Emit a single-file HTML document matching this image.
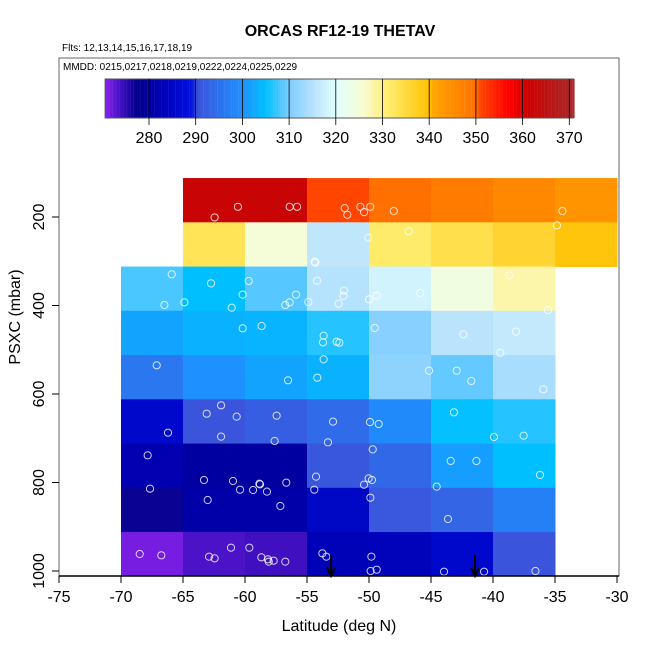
<!DOCTYPE html>
<html><head><meta charset="utf-8"><style>
body{margin:0;background:#fff;}
svg text{font-family:"Liberation Sans",sans-serif;}
</style></head><body>
<svg id="c" width="650" height="650" xmlns="http://www.w3.org/2000/svg"></svg>
<script>
const colLats=[-70,-65,-60,-55,-50,-45,-40,-35];
const rowEdges=[112,212,312,412,512,612,712,812,912,1012];
const rowStartLat=[-65,-65,-70,-70,-70,-70,-70,-70,-70];
const cellValues=[
[362,362,351,350,348,346,344],
[333,325,316,331.5,334,336,339],
[308,305,308.5,315,318,324,328],
[302,303.5,303.7,306.5,311,315.5,316.5],
[296,300,302,303.5,311.5,309,314],
[286,290.5,292,294,299,305.2,306.5],
[282,280,280,290.8,293.5,301.5,305],
[277,281,281,285,291,293,297.5],
[271.5,273.5,274,283,283.5,286,290.5]];
const ptLat=[-60.57,-62.45,-56.4,-55.8,-51.96,-51.75,-50.7,-50.4,-49.9,-48.0,-34.4,-34.84,-46.8,-50.05,-54.33,-54.38,-65.91,-62.74,-59.7,-60.19,-64.89,-66.5,-61.07,-56.75,-56.4,-55.89,-54.89,-54.19,-52.02,-52.07,-52.45,-50.0,-49.38,-45.86,-38.68,-35.56,-60.19,-58.66,-53.66,-53.71,-52.61,-52.39,-49.54,-42.39,-38.15,-39.41,-67.12,-56.53,-53.66,-54.17,-45.16,-42.93,-41.75,-35.94,-61.93,-63.09,-60.67,-57.45,-66.21,-61.93,-57.61,-52.9,-53.31,-49.92,-49.22,-43.15,-39.92,-37.53,-67.85,-49.7,-43.41,-41.34,-36.21,-63.31,-60.97,-58.84,-58.79,-56.67,-54.27,-50.03,-49.76,-50.4,-67.66,-60.4,-59.35,-58.23,-63.01,-57.15,-54.41,-49.89,-44.54,-43.63,-68.49,-66.75,-61.13,-59.65,-62.9,-62.45,-58.68,-58.15,-57.69,-58.09,-56.75,-53.76,-53.44,-49.81,-49.87,-49.38,-43.95,-40.72,-36.58];
const ptPres=[177,201,177,177,180,195,177,189,177,186.5,186.5,218.8,232.4,246.7,303,301,329.6,350,344.6,375.5,392.9,398.9,404.9,398.9,392.9,375.5,392.1,343.9,366.5,378.5,395.9,386,377.8,371.8,331.8,410.2,451.6,446.3,468.2,483.3,481.8,484,450.9,465.2,459.1,506.6,535.2,569.1,521.7,563.1,547.3,547.3,570.6,589.5,625.6,644.5,651.2,649,687.4,696.4,706.2,662.5,709.2,663.3,667.8,641.4,697.2,694.2,738.6,725.1,751.4,751.4,783.1,794.4,796.6,802.7,804.2,800.4,786.8,790.6,794.4,804.9,814,816.2,817,820.7,839.6,853.1,816.2,834.3,809.4,882.5,961.6,964.6,947.3,947.3,967.6,971.4,969.1,973.7,976.7,978.9,978.9,960,967.6,967.6,1000,997,1001.5,1001.5,1000];
const arrowLats=[-53.06,-41.45];
const xTicks=[-75,-70,-65,-60,-55,-50,-45,-40,-35,-30];
const yTicks=[200,400,600,800,1000];
const cbTicks=[280,290,300,310,320,330,340,350,360,370];

const stops=[[270.6,'#8b22ee'],[274,'#4010c0'],[277.5,'#00008b'],[282,'#0000b0'],[289,'#0010e0'],[290.5,'#3a55dc'],[300,'#1e90ff'],[305,'#00bfff'],[310,'#7cccff'],[316,'#c0e6fc'],[320,'#e0ffff'],[326,'#f8fcd0'],[331,'#ffee70'],[340,'#ffc000'],[341,'#ffa500'],[350,'#ff7000'],[351,'#ff4500'],[357,'#ff0000'],[361,'#cd0000'],[371,'#a52a2a']];
function hx(h){return [1,3,5].map(i=>parseInt(h.substr(i,2),16));}
function colorOf(v){
 if(v<=stops[0][0])return stops[0][1];
 for(let i=1;i<stops.length;i++){if(v<=stops[i][0]){const a=stops[i-1],b=stops[i];const t=(v-a[0])/(b[0]-a[0]);const ca=hx(a[1]),cb=hx(b[1]);return 'rgb('+ca.map((c,k)=>Math.round(c+(cb[k]-c)*t)).join(',')+')';}}
 return stops[stops.length-1][1];}
const X=l=>59+(l+75)*12.4;
const Y=p=>217+(p-200)*0.4425;
const CB=v=>149+(v-280)*4.67;
const svg=document.getElementById('c');
const NS='http://www.w3.org/2000/svg';
function mk(t,a,txt){const e=document.createElementNS(NS,t);for(const k in a)e.setAttribute(k,a[k]);if(txt!==undefined)e.textContent=txt;svg.appendChild(e);return e;}
let e;
cellValues.forEach((row,r)=>{row.forEach((v,c)=>{const l=rowStartLat[r]+c*5;
 e=mk('rect',{x:X(l),y:Y(rowEdges[r]),width:X(l+5)-X(l)+0.5,height:Math.min(Y(rowEdges[r+1]),576)-Y(rowEdges[r])+0.5,fill:colorOf(v)});
 
 });});
ptLat.forEach((l,i)=>{e=mk('circle',{cx:X(l),cy:Y(ptPres[i]),r:3.6,fill:'none',stroke:'#fff','stroke-opacity':0.8,'stroke-width':1});
 
 });
arrowLats.forEach(l=>{const x=X(l);
 e=mk('path',{d:`M${x},555 L${x},576 M${x-4},568 L${x},576 L${x+4},568`,stroke:'#000','stroke-width':2,fill:'none'});
 
 });
e=mk('rect',{x:59,y:58,width:560,height:518,fill:'none',stroke:'#666','stroke-width':1});

mk('line',{x1:59,y1:576,x2:619,y2:576,stroke:'#000','stroke-width':1.5});
for(let v=270.6;v<370.9;v+=0.5){e=mk('rect',{x:CB(v),y:79,width:2.5,height:39,fill:colorOf(v+0.25)});
 
 }
e=mk('rect',{x:CB(270.6),y:79,width:CB(370.9)-CB(270.6),height:39,fill:'none',stroke:'#555'});

cbTicks.forEach(t=>{mk('line',{x1:CB(t),y1:79,x2:CB(t),y2:125,stroke:'#000','stroke-width':0.8});
 e=mk('text',{x:CB(t),y:143,'font-size':16,'text-anchor':'middle'},t);
 
 });
xTicks.forEach(t=>{mk('line',{x1:X(t),y1:576,x2:X(t),y2:583,stroke:'#000'});
 e=mk('text',{x:X(t),y:602,'font-size':16,'text-anchor':'middle'},t);
 
 });
yTicks.forEach(t=>{mk('line',{x1:52,y1:Y(t),x2:59,y2:Y(t),stroke:'#000'});
 e=mk('text',{x:0,y:0,'font-size':16,'text-anchor':'middle',transform:`translate(44,${Y(t)}) rotate(-90)`},t);
 
 });
e=mk('text',{x:340,y:36,'font-size':16,'font-weight':'bold','text-anchor':'middle'},'ORCAS RF12-19 THETAV');

e=mk('text',{x:62,y:51,'font-size':10},'Flts: 12,13,14,15,16,17,18,19');

e=mk('text',{x:63,y:70,'font-size':10},'MMDD: 0215,0217,0218,0219,0222,0224,0225,0229');

e=mk('text',{x:339,y:631,'font-size':16,'text-anchor':'middle'},'Latitude (deg N)');

e=mk('text',{x:0,y:0,'font-size':16,'text-anchor':'middle',transform:'translate(20,317) rotate(-90)'},'PSXC (mbar)');

</script>
</body></html>
